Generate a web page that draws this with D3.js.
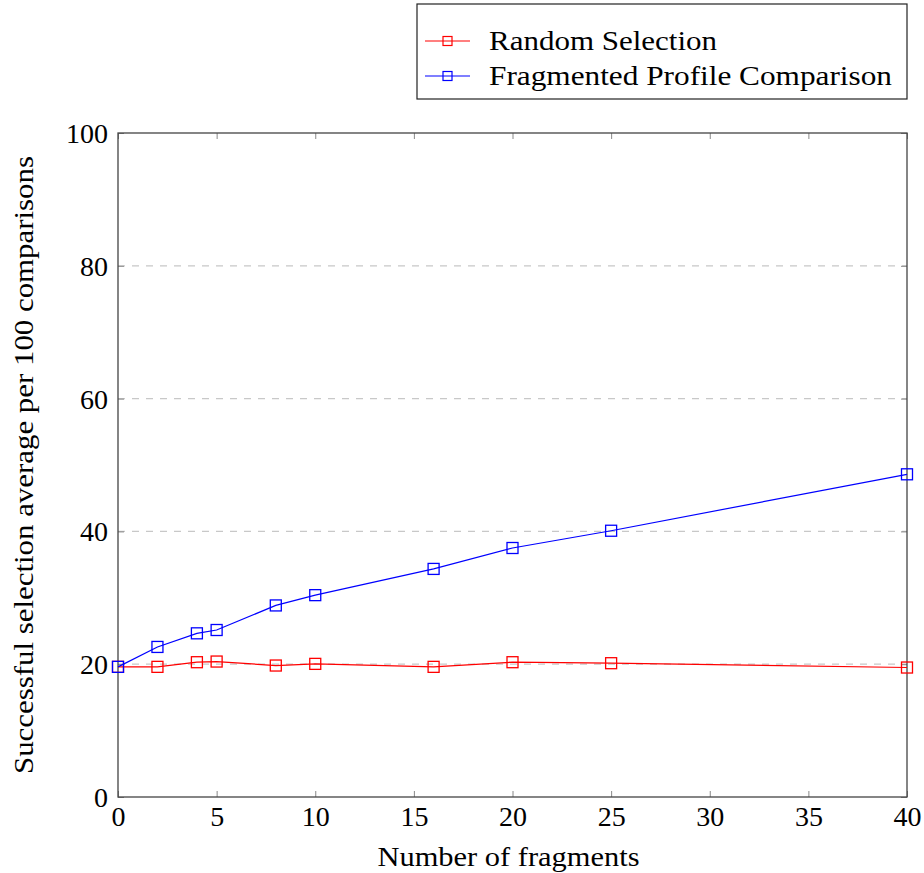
<!DOCTYPE html>
<html>
<head>
<meta charset="utf-8">
<script src="https://cdn.jsdelivr.net/npm/d3@7"></script>
<style>
  html, body { margin: 0; padding: 0; background: #fff; }
  svg { display: block; }
  text { font-family: "Liberation Serif", "DejaVu Serif", serif; fill: #000; }
</style>
</head>
<body>
<script>
// ---- data ----
const fragments = [0, 2, 4, 5, 8, 10, 16, 20, 25, 40];
const randomSelection = [19.6, 19.6, 20.3, 20.4, 19.8, 20.05, 19.6, 20.3, 20.15, 19.5];
const fragmentedProfile = [19.6, 22.6, 24.65, 25.15, 28.85, 30.4, 34.35, 37.5, 40.1, 48.6];
const xTicks = [0, 5, 10, 15, 20, 25, 30, 35, 40];
const yTicks = [0, 20, 40, 60, 80, 100];
const seriesNames = ["Random Selection", "Fragmented Profile Comparison"];
const seriesColors = ["#ff0000", "#0000ff"];
const xLabel = "Number of fragments";
const yLabel = "Successful selection average per 100 comparisons";

// ---- layout ----
const W = 924, H = 873;
const mLeft = 118, mRight = 907, mTop = 133, mBottom = 797;
const fs = 28;

const svg = d3.select("body").append("svg").attr("width", W).attr("height", H);

const x = d3.scaleLinear().domain([0, 40]).range([mLeft, mRight]);
const y = d3.scaleLinear().domain([0, 100]).range([mBottom, mTop]);

// grid lines
svg.append("g").selectAll("line").data(yTicks.filter(d => d > 0 && d < 100)).join("line")
  .attr("x1", mLeft).attr("x2", mRight)
  .attr("y1", d => y(d)).attr("y2", d => y(d))
  .attr("stroke", "#c8c8c8").attr("stroke-width", 1.2).attr("stroke-dasharray", "7,7");

// axes (ticks inward on all sides)
const tickLen = 6;
const bottomAxis = svg.append("g").attr("transform", `translate(0,${mBottom})`)
  .call(d3.axisBottom(x).tickValues(xTicks).tickSize(-tickLen).tickPadding(tickLen + 4));
const topAxis = svg.append("g").attr("transform", `translate(0,${mTop})`)
  .call(d3.axisTop(x).tickValues(xTicks).tickSize(-tickLen).tickFormat(""));
const leftAxis = svg.append("g").attr("transform", `translate(${mLeft},0)`)
  .call(d3.axisLeft(y).tickValues(yTicks).tickSize(-tickLen).tickPadding(tickLen + 4));
const rightAxis = svg.append("g").attr("transform", `translate(${mRight},0)`)
  .call(d3.axisRight(y).tickValues(yTicks).tickSize(-tickLen).tickFormat(""));

[bottomAxis, topAxis, leftAxis, rightAxis].forEach(g => {
  g.select(".domain").remove();
  g.selectAll(".tick line").attr("stroke", "#888").attr("stroke-width", 1);
  g.selectAll("text").attr("font-size", fs).attr("font-family", "Liberation Serif").attr("fill", "#000");
});
bottomAxis.selectAll("text").attr("dy", null).attr("y", 29);
leftAxis.selectAll("text").attr("dy", "0.34em");

// frame
svg.append("rect").attr("x", mLeft).attr("y", mTop)
  .attr("width", mRight - mLeft).attr("height", mBottom - mTop)
  .attr("fill", "none").attr("stroke", "#444").attr("stroke-width", 1.3);

// series
const seriesData = [randomSelection, fragmentedProfile];
const line = d3.line().x((d, i) => x(fragments[i])).y(d => y(d));
const ms = 11;
seriesData.forEach((vals, s) => {
  const g = svg.append("g");
  g.append("path").datum(vals).attr("d", line)
    .attr("fill", "none").attr("stroke", seriesColors[s]).attr("stroke-width", 1.2);
  g.selectAll("rect").data(vals).join("rect")
    .attr("x", (d, i) => x(fragments[i]) - ms / 2)
    .attr("y", d => y(d) - ms / 2)
    .attr("width", ms).attr("height", ms)
    .attr("fill", "none").attr("stroke", seriesColors[s]).attr("stroke-width", 1.3);
});

// axis labels
function fitText(sel, target) {
  const len = sel.node().getComputedTextLength();
  if (len > 0) sel.attr("textLength", target).attr("lengthAdjust", "spacingAndGlyphs");
}
const xl = svg.append("text").attr("x", (mLeft + mRight) / 2 - 4).attr("y", 866)
  .attr("text-anchor", "middle").attr("font-size", fs).text(xLabel);
fitText(xl, 262);
const yl = svg.append("text").attr("transform", `translate(33,${(mTop + mBottom) / 2}) rotate(-90)`)
  .attr("text-anchor", "middle").attr("font-size", fs).text(yLabel);
fitText(yl, 618);

// legend
const lg = svg.append("g");
lg.append("rect").attr("x", 417).attr("y", 4).attr("width", 490).attr("height", 95)
  .attr("fill", "#fff").attr("stroke", "#222").attr("stroke-width", 1.2);
const legendTargets = [228, 403];
seriesNames.forEach((name, i) => {
  const cy = 41 + i * 35;
  lg.append("line").attr("x1", 425).attr("x2", 470).attr("y1", cy).attr("y2", cy)
    .attr("stroke", seriesColors[i]).attr("stroke-width", 1.2);
  lg.append("rect").attr("x", 447.5 - 4.5).attr("y", cy - 4.5).attr("width", 9).attr("height", 9)
    .attr("fill", "none").attr("stroke", seriesColors[i]).attr("stroke-width", 1.2);
  const t = lg.append("text").attr("x", 489).attr("y", cy + 9).attr("font-size", fs).text(name);
  fitText(t, legendTargets[i]);
});
</script>
</body>
</html>
